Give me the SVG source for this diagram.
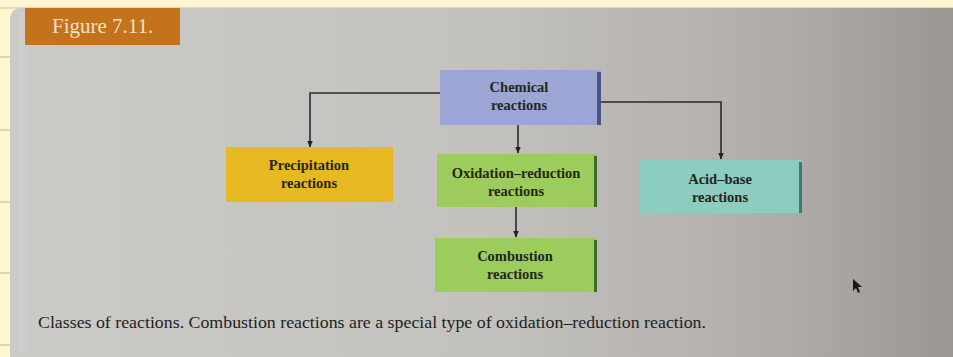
<svg xmlns="http://www.w3.org/2000/svg" width="953" height="357" viewBox="0 0 953 357">
<defs>
<linearGradient id="panel" x1="0" y1="0" x2="1" y2="0">
<stop offset="0" stop-color="#cacac7"/>
<stop offset="0.5" stop-color="#c3c2be"/>
<stop offset="0.82" stop-color="#b0acaa"/>
<stop offset="1" stop-color="#9c9693"/>
</linearGradient>
<marker id="arr" viewBox="0 0 10 10" refX="9" refY="5" markerWidth="7" markerHeight="7" orient="auto" markerUnits="userSpaceOnUse">
<path d="M0,1 L10,5 L0,9 z" fill="#222"/>
</marker>
<style>
.serif{font-family:"Liberation Serif","Times New Roman",serif}
.node text{font-family:"Liberation Serif","Times New Roman",serif;font-weight:bold;font-size:14.5px;fill:#25251c;text-anchor:middle}
.edge{stroke:#2a2a2a;stroke-width:1.6;fill:none;marker-end:url(#arr)}
.rule{stroke:#b9b39a;stroke-width:1}
</style>
</defs>
<rect x="0" y="0" width="953" height="357" fill="#fdf6d1"/>
<g id="page-rules">
<line class="rule" x1="0" y1="57" x2="11" y2="57"/>
<line class="rule" x1="0" y1="130" x2="11" y2="130"/>
<line class="rule" x1="0" y1="202" x2="11" y2="202"/>
<line class="rule" x1="0" y1="273" x2="11" y2="273"/>
<line class="rule" x1="0" y1="345" x2="11" y2="345"/>
<line x1="0" y1="8" x2="953" y2="8" stroke="#c9c4a4" stroke-width="1"/>
</g>
<path d="M22,8 H953 V357 H10 V20 Q10,8 22,8 z" fill="url(#panel)"/>
<rect x="18" y="12" width="10" height="340" fill="#d0d0cd" opacity="0.5"/>
<g id="figure-label">
<rect x="25" y="8" width="155" height="37" fill="#c4721c"/>
<text class="serif" x="52" y="33" font-size="21" fill="#f3e2c6">Figure 7.11.</text>
</g>
<g id="connectors">
<path class="edge" d="M440,93 H310 V147"/>
<path class="edge" d="M600,102 H721 V159"/>
<path class="edge" d="M518,125 V153"/>
<path class="edge" d="M516,207 V237"/>
</g>
<g id="chemical" class="node">
<rect x="440" y="70" width="161" height="55" fill="#9ba6d5"/>
<rect x="597" y="72" width="4" height="53" fill="#4a5388"/>
<text x="519" y="92">Chemical</text>
<text x="519" y="110">reactions</text>
</g>
<g id="precipitation" class="node">
<rect x="226" y="147" width="167" height="55" fill="#e6b822"/>
<text x="309" y="170">Precipitation</text>
<text x="309" y="188">reactions</text>
</g>
<g id="oxidation" class="node">
<rect x="437" y="154" width="160" height="53" fill="#9ccc5c"/>
<rect x="594" y="156" width="3" height="51" fill="#3f6a2a"/>
<text x="516" y="178">Oxidation–reduction</text>
<text x="516" y="196">reactions</text>
</g>
<g id="acidbase" class="node">
<rect x="640" y="160" width="162" height="53" fill="#8dccc0"/>
<rect x="799" y="162" width="3" height="51" fill="#3a7b74"/>
<text x="720" y="184">Acid–base</text>
<text x="720" y="202">reactions</text>
</g>
<g id="combustion" class="node">
<rect x="435" y="238" width="162" height="54" fill="#9ccc5c"/>
<rect x="594" y="240" width="3" height="52" fill="#3f6a2a"/>
<text x="515" y="261">Combustion</text>
<text x="515" y="279">reactions</text>
</g>
<path id="cursor" d="M853,279 L853,291 L856,288 L858,293 L860,292 L858,287 L862,287 z" fill="#1a1a1a"/>
<text class="serif" x="38" y="328" font-size="17" fill="#1e1e1e" textLength="668" lengthAdjust="spacingAndGlyphs" style="font-family:'Liberation Serif','Times New Roman',serif">Classes of reactions. Combustion reactions are a special type of oxidation–reduction reaction.</text>
</svg>
